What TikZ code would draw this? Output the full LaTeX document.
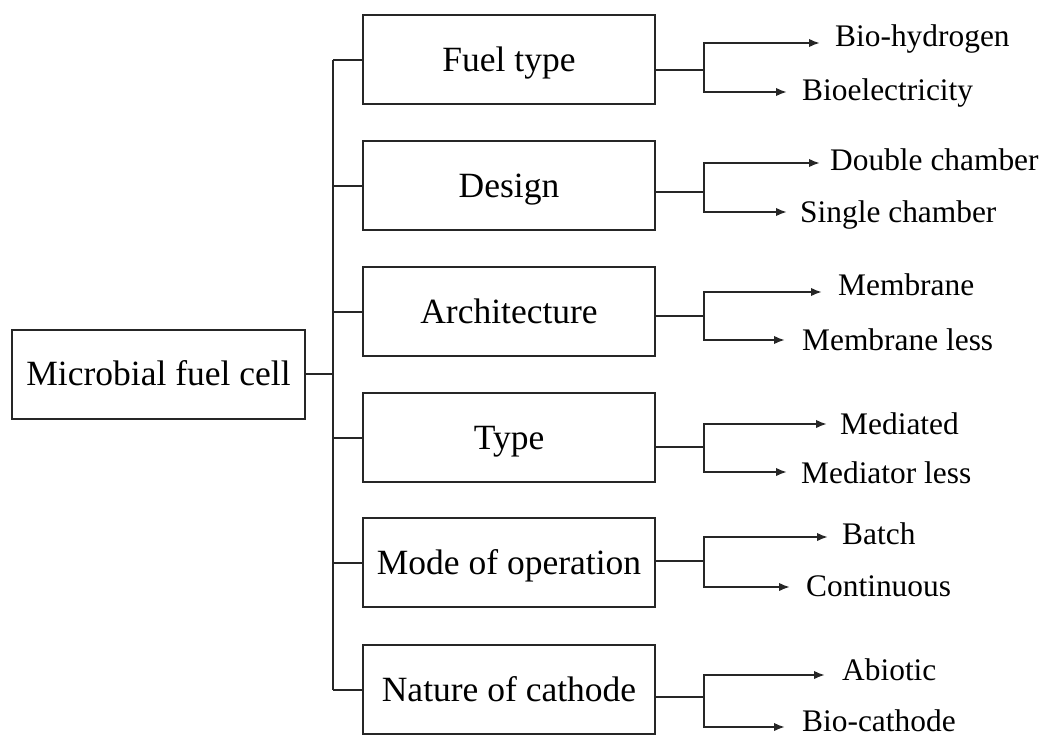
\documentclass[tikz,border=0pt]{standalone}
\usepackage{fontspec}
\setmainfont{Liberation Serif}
\usetikzlibrary{arrows.meta}
\tikzset{
  conn/.style={line width=2pt, draw=black!85},
  arr/.style={conn, -{Latex[length=11pt,width=8.5pt]}},
  boxstyle/.style={draw=black!85, line width=2pt, minimum height=89pt, inner sep=0pt,
    text height=23.5pt, text depth=0pt, font=\fontsize{35.5pt}{40pt}\selectfont},
  midbox/.style={boxstyle, minimum width=292pt},
  leaf/.style={anchor=base west, inner sep=0pt, font=\fontsize{31.4pt}{36pt}\selectfont}
}
\begin{document}
\begin{tikzpicture}[x=1pt,y=-1pt]
\useasboundingbox (0,0) rectangle (1048,736);
\node[boxstyle, minimum width=293pt] (mfc) at (158.5,374) {Microbial fuel cell};
\foreach \n/\cy/\txt/\hy/\ty/\by/\tax/\bax/\ttx/\btx/\tbl/\bbl/\tlab/\blab in {
  1/59.5/Fuel type/70/43/92/820/787/835/802/46.7/100/Bio-hydrogen/Bioelectricity,
  2/185.5/Design/192/163/212/820/787/830/800/170/222/Double chamber/Single chamber,
  3/311.5/Architecture/316/292/340/822/785/838/802/295/350/Membrane/Membrane less,
  4/437.5/Type/447/424/472/827/787/840/801/434/483/Mediated/Mediator less,
  5/562.5/Mode of operation/561/537/587/828/790/842/806/544/596/Batch/Continuous,
  6/689.5/Nature of cathode/697/675/727/825/785/842/802/680/731/Abiotic/Bio-cathode}{
  \node[midbox] (b\n) at (509,\cy) {\txt};
  \coordinate (t\n) at (333,\cy);
  \draw[conn] (t\n) -- (b\n.west);
  \coordinate (h\n) at (704,\hy);
  \draw[conn] (b\n.east |- h\n) -- (h\n);
  \node[leaf] (u\n) at (\ttx,\tbl) {\tlab};
  \node[leaf] (l\n) at (\btx,\bbl) {\blab};
  \coordinate (ua\n) at (\tax,\ty);
  \coordinate (la\n) at (\bax,\by);
  \draw[arr] (h\n) |- (ua\n);
  \draw[arr] (h\n) |- (la\n);
}
\draw[conn] (t1) -- (t6);
\draw[conn] (mfc.east) -- (mfc.east -| t1);
\end{tikzpicture}
\end{document}
